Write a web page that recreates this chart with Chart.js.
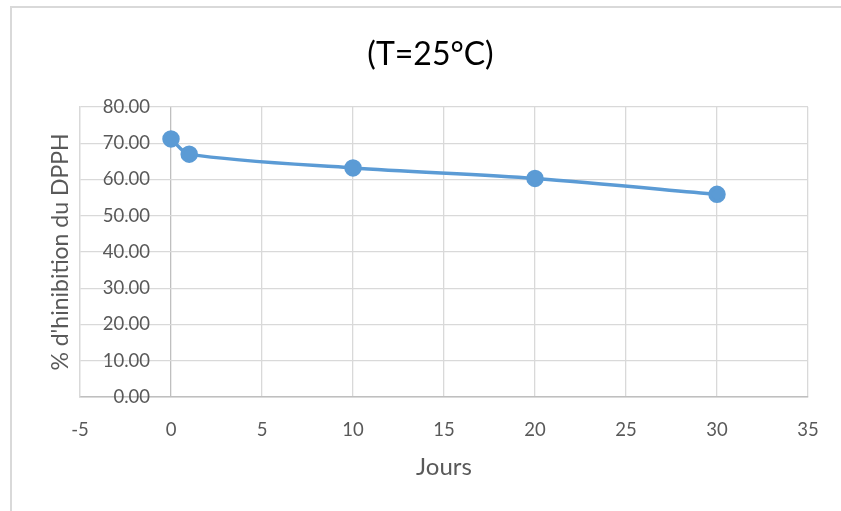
<!DOCTYPE html>
<html lang="fr">
<head>
  <meta charset="UTF-8" />
  <title>Inhibition du DPPH à 25°C</title>
  <script src="https://cdn.jsdelivr.net/npm/chart.js"></script>
  <style>
    body {
      margin: 0;
      background: #fff;
    }
    .wrap {
      position: relative;
      width: 841px;
      height: 511px;
      overflow: hidden;
    }
    /* light frame around the chart, only left and top edges show */
    .frame {
      position: absolute;
      left: 10px;
      top: 6px;
      width: 900px;
      height: 600px;
      border-left: 2px solid #d9d9d9;
      border-top: 2px solid #d9d9d9;
      pointer-events: none;
    }
  </style>
</head>
<body>
  <div class="wrap">
    <canvas id="chart" width="841" height="511"></canvas>
    <div class="frame"></div>
  </div>

  <script>
// Days of storage and % inhibition of DPPH
const jours = [0, 1, 10, 20, 30];
const inhibition = [71.2, 67.0, 63.2, 60.3, 55.9];

const xTicks = [-5, 0, 5, 10, 15, 20, 25, 30, 35];
const yTicks = [0, 10, 20, 30, 40, 50, 60, 70, 80];

const titre = '(T=25°C)';

const FONT = "Lato, 'Open Sans', sans-serif";
const GREY = '#595959';
const BLUE = '#5b9bd5';
const TICK_SIZE = 18.5;

const points = jours.map((j, i) => ({ x: j, y: inhibition[i] }));

// y labels sit inside the plot, right-aligned at x = 150 (70px right of the plot edge)
const measure = document.createElement('canvas').getContext('2d');
measure.font = TICK_SIZE + 'px ' + FONT;
const widest = Math.max(...yTicks.map(v => measure.measureText(v.toFixed(2)).width));

// chart title, centred over the whole frame rather than the plot
const titlePlugin = {
  id: 'titre',
  afterDraw(chart) {
    const ctx = chart.ctx;
    ctx.save();
    ctx.font = '32px ' + FONT;
    ctx.fillStyle = '#000';
    ctx.textAlign = 'center';
    ctx.textBaseline = 'alphabetic';
    ctx.fillText(titre, 430.5, 64.5);
    ctx.restore();
  }
};

new Chart(document.getElementById('chart'), {
  type: 'scatter',
  data: {
    datasets: [{
      data: points,
      showLine: true,
      tension: 0.3,
      borderColor: BLUE,
      backgroundColor: BLUE,
      borderWidth: 3.5,
      pointRadius: 7,
      pointHoverRadius: 7
    }]
  },
  plugins: [titlePlugin],
  options: {
    responsive: false,
    animation: false,
    layout: { padding: { left: 0, right: 33, top: 107, bottom: 0 } },
    plugins: {
      legend: { display: false },
      tooltip: { enabled: false },
      title: { display: false }
    },
    scales: {
      x: {
        type: 'linear',
        min: xTicks[0],
        max: xTicks[xTicks.length - 1],
        afterBuildTicks: s => { s.ticks = xTicks.map(v => ({ value: v })); },
        afterFit: s => { s.height = 114; },
        grid: {
          color: c => (c.tick && c.tick.value === 0 ? '#bfbfbf' : '#d9d9d9'),
          lineWidth: 1.3,
          drawTicks: false
        },
        border: { color: '#bfbfbf', width: 1.5 },
        ticks: {
          color: GREY,
          padding: 22,
          font: { family: FONT, size: TICK_SIZE }
        },
        title: {
          display: true,
          text: 'Jours',
          color: GREY,
          font: { family: FONT, size: 24, lineHeight: 1.2 },
          padding: { top: 0, bottom: 29 }
        }
      },
      y: {
        min: yTicks[0],
        max: yTicks[yTicks.length - 1],
        afterBuildTicks: s => { s.ticks = yTicks.map(v => ({ value: v })); },
        afterFit: s => { s.width = 80; },
        grid: {
          color: '#d9d9d9',
          lineWidth: 1.3,
          drawTicks: false
        },
        border: { color: '#d9d9d9', width: 1.3 },
        ticks: {
          color: GREY,
          mirror: true,
          crossAlign: 'far',
          padding: 70 - widest,
          font: { family: FONT, size: TICK_SIZE },
          callback: v => v.toFixed(2)
        },
        title: {
          display: true,
          text: "% d'hinibition du DPPH",
          color: GREY,
          font: { family: FONT, size: 23, lineHeight: 1.2 },
          padding: { top: 47, bottom: 0 }
        }
      }
    }
  }
});
  </script>
</body>
</html>
